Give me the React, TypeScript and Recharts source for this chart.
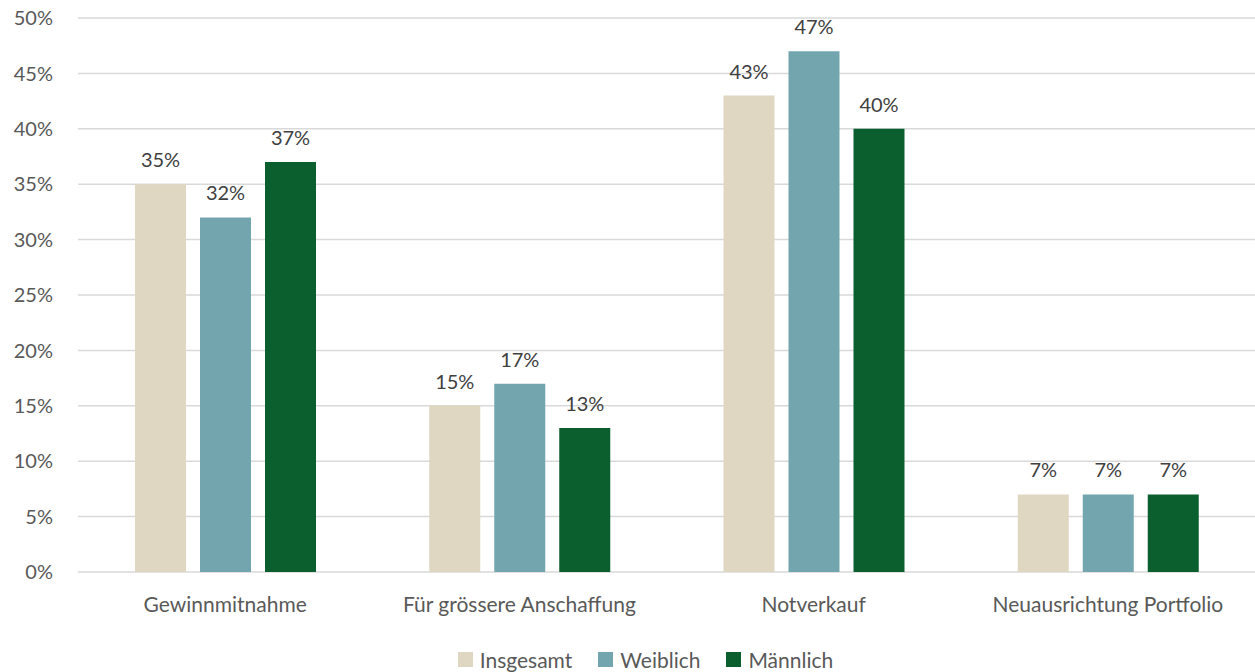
import { BarChart, Bar, XAxis, YAxis, CartesianGrid, Legend, LabelList } from "recharts";

const categories = ["Gewinnmitnahme", "Für grössere Anschaffung", "Notverkauf", "Neuausrichtung Portfolio"];
const insgesamt = [35, 15, 43, 7];
const weiblich = [32, 17, 47, 7];
const maennlich = [37, 13, 40, 7];
const yTicks = [0, 5, 10, 15, 20, 25, 30, 35, 40, 45, 50];

const seriesKeys = ["Insgesamt", "Weiblich", "Männlich"];
const seriesColors = ["#e0d7c2", "#73a5ae", "#0b5e2e"];

const data = categories.map((name, i) => ({
  name,
  Insgesamt: insgesamt[i],
  Weiblich: weiblich[i],
  Männlich: maennlich[i],
}));

const FONT = "Lato, 'Open Sans', sans-serif";
const pct = (v: number) => `${v}%`;

function LegendBox() {
  return (
    <div
      style={{
        display: "flex",
        justifyContent: "center",
        gap: 26,
        fontSize: 21,
        color: "#595959",
        fontFamily: FONT,
        paddingTop: 7,
        marginLeft: 36,
      }}
    >
      {seriesKeys.map((k, i) => (
        <span key={k} style={{ display: "flex", alignItems: "center", gap: 7 }}>
          <span style={{ width: 15, height: 15, background: seriesColors[i], display: "inline-block" }} />
          {k}
        </span>
      ))}
    </div>
  );
}

export default function App() {
  return (
    <div style={{ width: 1255, height: 672, fontFamily: FONT }}>
      <style>{"body{margin:0}"}</style>
      <BarChart
        width={1255}
        height={672}
        data={data}
        margin={{ top: 18, right: 0, left: 0, bottom: 0 }}
        barSize={51}
        barGap={14}
      >
        <CartesianGrid vertical={false} stroke="#d9d9d9" strokeWidth={1.5} />
        <XAxis
          dataKey="name"
          axisLine={false}
          tickLine={false}
          tickSize={0}
          tickMargin={25}
          height={68}
          tick={{ fill: "#595959", fontSize: 21, fontFamily: FONT }}
        />
        <YAxis
          domain={[0, 50]}
          ticks={yTicks}
          tickFormatter={pct}
          axisLine={false}
          tickLine={false}
          tickSize={0}
          tickMargin={25}
          width={78}
          tick={{ fill: "#595959", fontSize: 20, fontFamily: FONT }}
        />
        <Legend verticalAlign="bottom" height={32} content={<LegendBox />} />
        <Bar dataKey="Insgesamt" fill={seriesColors[0]} isAnimationActive={false}>
          <LabelList dataKey="Insgesamt" position="top" offset={17} formatter={pct} fill="#404040" fontSize={20} />
        </Bar>
        <Bar dataKey="Weiblich" fill={seriesColors[1]} isAnimationActive={false}>
          <LabelList dataKey="Weiblich" position="top" offset={17} formatter={pct} fill="#404040" fontSize={20} />
        </Bar>
        <Bar dataKey="Männlich" fill={seriesColors[2]} isAnimationActive={false}>
          <LabelList dataKey="Männlich" position="top" offset={17} formatter={pct} fill="#404040" fontSize={20} />
        </Bar>
      </BarChart>
    </div>
  );
}
